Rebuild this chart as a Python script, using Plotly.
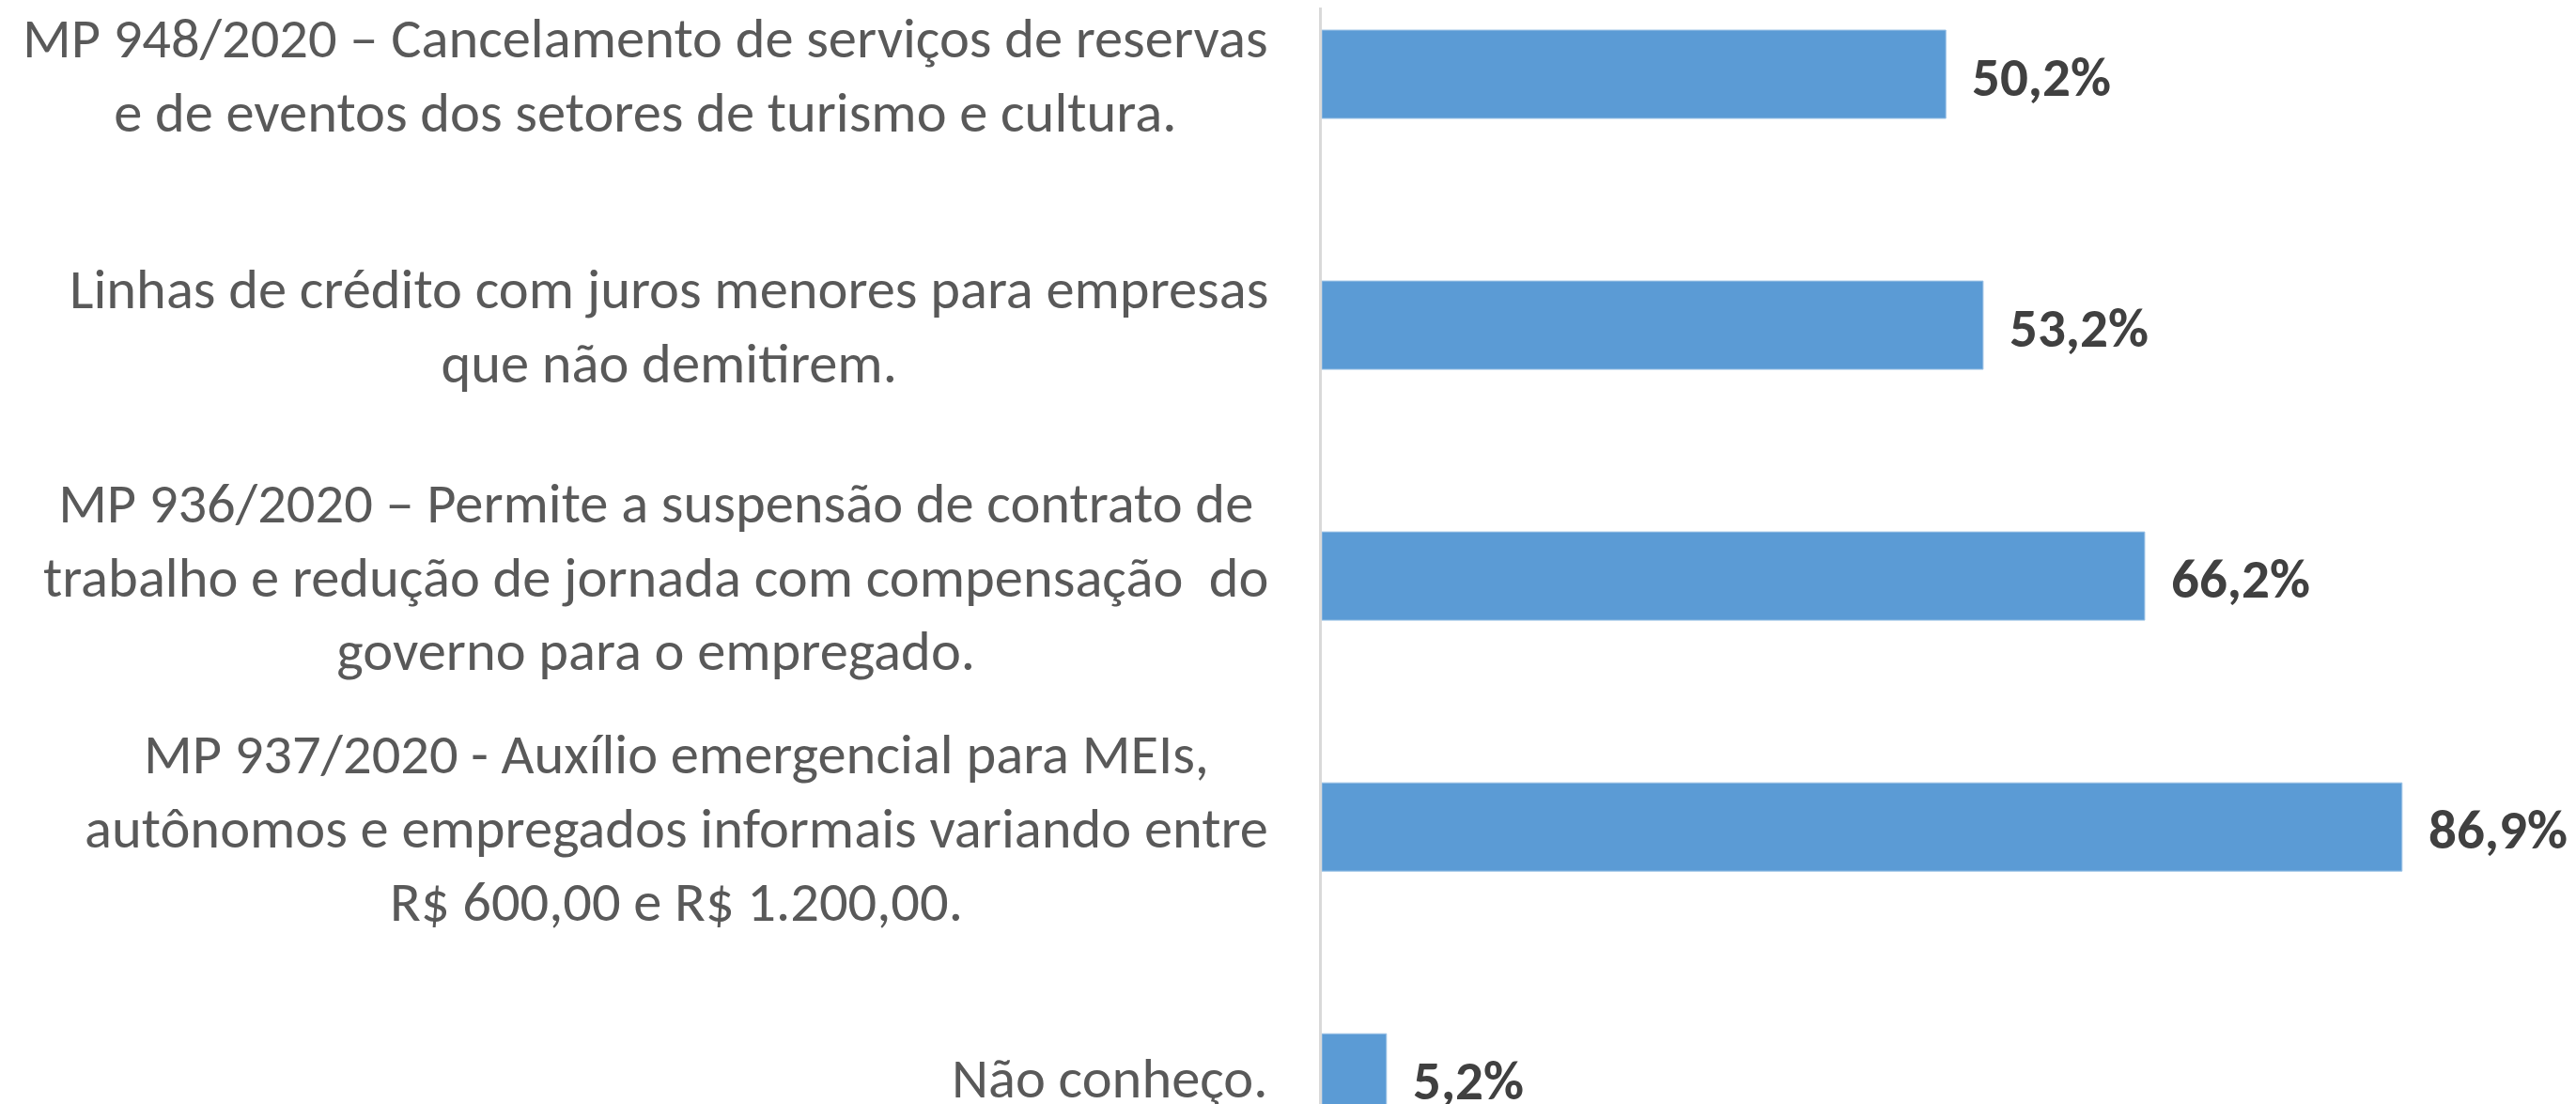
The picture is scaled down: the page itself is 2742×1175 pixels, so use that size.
import plotly.graph_objects as go

categories = [
    "MP 948/2020 – Cancelamento de serviços de reservas<br>e de eventos dos setores de turismo e cultura.",
    "Linhas de crédito com juros menores para empresas<br>que não demitirem.",
    "MP 936/2020 – Permite a suspensão de contrato de<br>trabalho e redução de jornada com compensação  do<br>governo para o empregado.",
    "MP 937/2020 - Auxílio emergencial para MEIs,<br>autônomos e empregados informais variando entre<br>R$ 600,00 e R$ 1.200,00.",
    "Não conheço.",
]
values = [50.2, 53.2, 66.2, 86.9, 5.2]
value_labels = ["50,2%", "53,2%", "66,2%", "86,9%", "5,2%"]

FONT = "Carlito, Lato, sans-serif"

fig = go.Figure()
fig.add_trace(go.Bar(
    x=values, y=categories, orientation="h",
    marker=dict(color="#5b9bd5", line=dict(color="#9dc3e6", width=1)),
    width=0.352, hoverinfo="skip",
))

annotations = []
for cat, v, lab in zip(categories, values, value_labels):
    annotations.append(dict(
        x=0, xref="paper", y=cat, yref="y", text=cat, showarrow=False,
        xanchor="right", yanchor="middle", align="center", xshift=-55,
        font=dict(family=FONT, size=60.5, color="#595959"),
    ))
    annotations.append(dict(
        x=v, xref="x", y=cat, yref="y", text="<b>" + lab + "</b>", showarrow=False,
        xanchor="left", yanchor="middle", xshift=26, yshift=-3,
        font=dict(family=FONT, size=59, color="#404040"),
    ))

fig.update_layout(
    width=2742, height=1175,
    margin=dict(l=1399, r=0, t=0, b=0),
    paper_bgcolor="white", plot_bgcolor="white",
    showlegend=False,
    annotations=annotations,
    xaxis=dict(range=[0, 101.5], visible=False, showgrid=False, zeroline=False),
    yaxis=dict(
        type="category", categoryorder="array", categoryarray=categories,
        range=[4.134, -0.266], showticklabels=False, showgrid=False, zeroline=False,
        showline=True, linecolor="#d9d9d9", linewidth=3, ticks="",
    ),
)

fig.write_html("out.html")
